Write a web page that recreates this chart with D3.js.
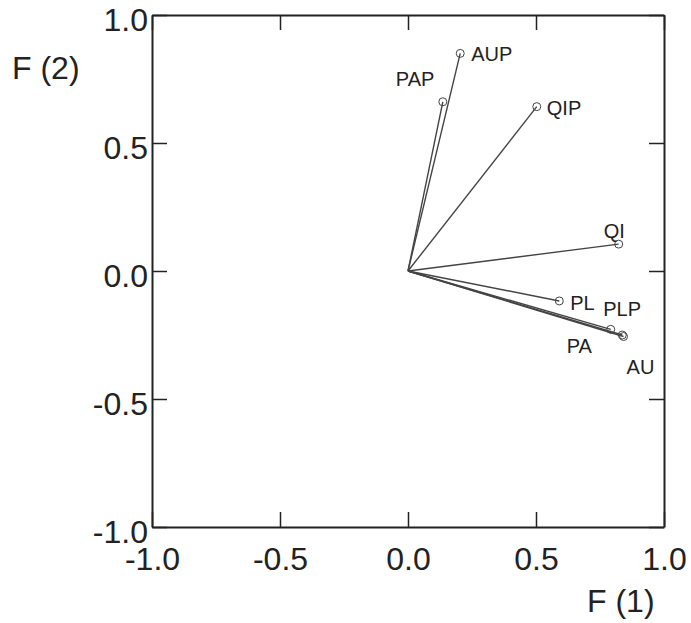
<!DOCTYPE html>
<html>
<head>
<meta charset="utf-8">
<script src="https://cdn.jsdelivr.net/npm/d3@7"></script>
<style>
  body { margin: 0; background: #fff; }
  svg { font-family: "Liberation Sans", Arial, sans-serif; }
</style>
</head>
<body>
<svg width="691" height="623"></svg>
<script>
// variable loadings on the first two factors
const variables = ["AUP", "PAP", "QIP", "QI", "PL", "PA", "PLP", "AU"];
const f1Values = [0.204, 0.136, 0.503, 0.823, 0.591, 0.792, 0.837, 0.842];
const f2Values = [0.850, 0.661, 0.642, 0.105, -0.117, -0.228, -0.250, -0.256];
// label offsets (px) from the point
const labelDx = [11, -47, 10, -15, 11, -44, -19, 3];
const labelDy = [8, -16, 8, -6, 9, 24, -19, 37];

const tickValues = [-1, -0.5, 0, 0.5, 1];

const svg = d3.select("svg");
const x = d3.scaleLinear().domain([-1, 1]).range([152, 664]);
const y = d3.scaleLinear().domain([-1, 1]).range([527, 15]);
// plain hyphen for negative numbers, like the original
const fmt = d => d3.format(".1f")(d).replace("\u2212", "-");

// axes: ticks point inward on all four sides
function styleAxis(g) {
    g.selectAll(".domain").attr("stroke", "#222").attr("stroke-width", 2);
    g.selectAll(".tick line").attr("stroke", "#222").attr("stroke-width", 1.5);
    g.selectAll(".tick text").attr("fill", "#222").attr("font-size", 32);
}

svg.append("g")
    .attr("transform", `translate(0,${y(-1)})`)
    .call(d3.axisBottom(x).tickValues(tickValues).tickFormat(fmt)
        .tickSizeInner(-15).tickSizeOuter(0).tickPadding(20))
    .call(styleAxis)
    .call(g => g.attr("font-family", null));

svg.append("g")
    .attr("transform", `translate(${x(-1)},0)`)
    .call(d3.axisLeft(y).tickValues(tickValues).tickFormat(fmt)
        .tickSizeInner(-15).tickSizeOuter(0).tickPadding(4))
    .call(styleAxis)
    .call(g => g.attr("font-family", null))
    .selectAll(".tick text").attr("dy", "0.48em");

svg.append("g")
    .attr("transform", `translate(0,${y(1)})`)
    .call(d3.axisTop(x).tickValues(tickValues).tickFormat("")
        .tickSizeInner(-15).tickSizeOuter(0))
    .call(styleAxis);

svg.append("g")
    .attr("transform", `translate(${x(1)},0)`)
    .call(d3.axisRight(y).tickValues(tickValues).tickFormat("")
        .tickSizeInner(-15).tickSizeOuter(0))
    .call(styleAxis);

// axis titles
svg.append("text")
    .attr("x", 12).attr("y", 79)
    .attr("font-size", 32).attr("fill", "#222")
    .text("F (2)");

svg.append("text")
    .attr("x", 587).attr("y", 612)
    .attr("font-size", 32).attr("fill", "#222")
    .text("F (1)");

// vectors from origin
const data = variables.map((v, i) => ({
    name: v, f1: f1Values[i], f2: f2Values[i], dx: labelDx[i], dy: labelDy[i]
}));

svg.append("g").selectAll("line")
    .data(data)
    .join("line")
    .attr("x1", x(0)).attr("y1", y(0))
    .attr("x2", d => x(d.f1)).attr("y2", d => y(d.f2))
    .attr("stroke", "#444").attr("stroke-width", 1.4);

svg.append("g").selectAll("circle")
    .data(data)
    .join("circle")
    .attr("cx", d => x(d.f1)).attr("cy", d => y(d.f2))
    .attr("r", 4)
    .attr("fill", "none").attr("stroke", "#444").attr("stroke-width", 1);

svg.append("g").selectAll("text")
    .data(data)
    .join("text")
    .attr("x", d => x(d.f1) + d.dx).attr("y", d => y(d.f2) + d.dy)
    .attr("font-size", 20).attr("fill", "#222")
    .text(d => d.name);
</script>
</body>
</html>
